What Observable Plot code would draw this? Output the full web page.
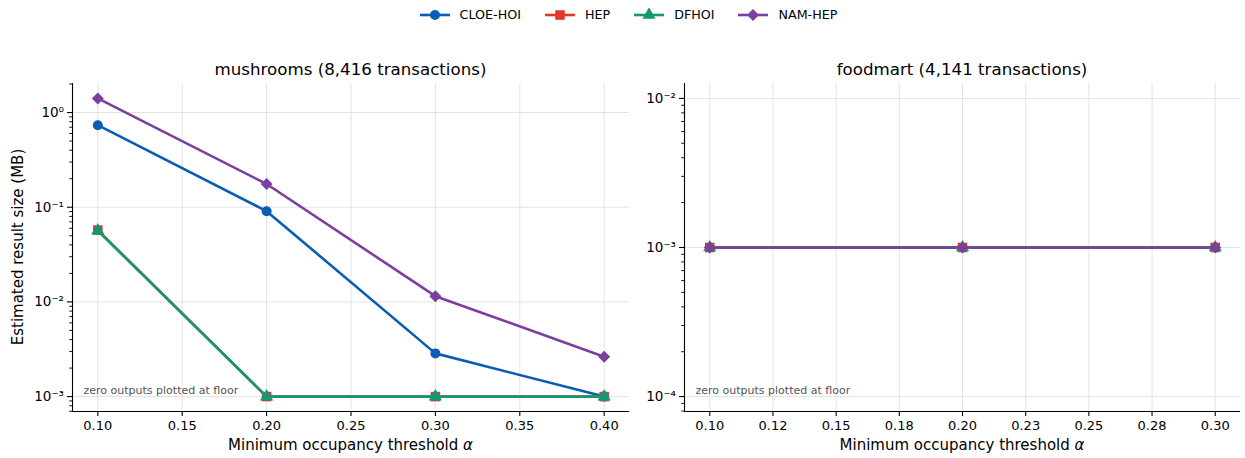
<!DOCTYPE html>
<html><head><meta charset="utf-8">
<script src="https://cdn.jsdelivr.net/npm/d3@7"></script>
<script src="https://cdn.jsdelivr.net/npm/@observablehq/plot@0.6"></script>
<style>
body{margin:0;background:#fff;font-family:"DejaVu Sans",sans-serif;color:#000;}
#root{position:relative;width:1245px;height:458px;overflow:hidden;background:#fff;}
.abs{position:absolute;white-space:nowrap;}
.plot{position:absolute;}
.legend{position:absolute;left:6px;top:6px;width:1245px;display:flex;justify-content:center;gap:24px;font-size:12.7px;line-height:18px;}
.legend .item{display:flex;align-items:center;gap:10px;}
</style></head><body><div id="root"></div>
<script>
// ---------- data ----------
const seriesNames = ["CLOE-HOI", "HEP", "DFHOI", "NAM-HEP"];

const mushThresholds = [0.10, 0.20, 0.30, 0.40];
const mushCLOE  = [0.735, 0.0908, 0.00286, 0.001];
const mushHEP   = [0.0573, 0.001, 0.001, 0.001];
const mushDFHOI = [0.0565, 0.001, 0.001, 0.001];
const mushNAM   = [1.41, 0.176, 0.0115, 0.00264];

const foodThresholds = [0.10, 0.20, 0.30];
const foodCLOE  = [0.001, 0.001, 0.001];
const foodHEP   = [0.001, 0.001, 0.001];
const foodDFHOI = [0.001, 0.001, 0.001];
const foodNAM   = [0.001, 0.001, 0.001];

const mushXTicks = [0.10, 0.15, 0.20, 0.25, 0.30, 0.35, 0.40];
const mushXTickLabels = ["0.10", "0.15", "0.20", "0.25", "0.30", "0.35", "0.40"];
const foodXTicks = [0.100, 0.125, 0.150, 0.175, 0.200, 0.225, 0.250, 0.275, 0.300];
const foodXTickLabels = ["0.10", "0.12", "0.15", "0.18", "0.20", "0.23", "0.25", "0.28", "0.30"];
const mushYTicks = [1e-3, 1e-2, 1e-1, 1];
const foodYTicks = [1e-4, 1e-3, 1e-2];

const panelTitles = ["mushrooms (8,416 transactions)", "foodmart (4,141 transactions)"];
const xLabelText = "Minimum occupancy threshold ";
const xLabelSymbol = "α";
const yLabelText = "Estimated result size (MB)";
const floorNote = "zero outputs plotted at floor";

// ---------- styles ----------
const styles = {
  "CLOE-HOI": {color: "#0b5cb5", symbol: "circle",   r: 5.0},
  "HEP":      {color: "#e0392b", symbol: "square",   r: 5.4},
  "DFHOI":    {color: "#12996f", symbol: "triangle", r: 4.9},
  "NAM-HEP":  {color: "#7b3f9f", symbol: "diamond2", r: 5.4}
};

function toRows(xs, seriesVals) {
  const rows = [];
  seriesNames.forEach((s, k) => xs.forEach((x, i) => rows.push({series: s, x, y: seriesVals[k][i]})));
  return rows;
}
const mushRows = toRows(mushThresholds, [mushCLOE, mushHEP, mushDFHOI, mushNAM]);
const foodRows = toRows(foodThresholds, [foodCLOE, foodHEP, foodDFHOI, foodNAM]);

function linDomain(vals) {
  const lo = d3.min(vals), hi = d3.max(vals), m = (hi - lo) * 0.05;
  return [lo - m, hi + m];
}
function logDomain(vals) {
  let lo = Math.log10(d3.min(vals)), hi = Math.log10(d3.max(vals));
  if (Math.abs(hi - lo) < 1e-9) { lo -= 1; hi += 1; }
  const m = (hi - lo) * 0.05;
  return [10 ** (lo - m), 10 ** (hi + m)];
}
function minorTicks(domain) {
  const out = [];
  const e0 = Math.floor(Math.log10(domain[0])) , e1 = Math.ceil(Math.log10(domain[1]));
  for (let e = e0; e <= e1; e++) for (let m = 2; m <= 9; m++) {
    const v = m * 10 ** e;
    if (v > domain[0] && v < domain[1] * 0.995) out.push(v);
  }
  return out;
}
const supMap = {"-": "⁻", "0": "⁰", "1": "¹", "2": "²", "3": "³", "4": "⁴", "5": "⁵", "6": "⁶", "7": "⁷", "8": "⁸", "9": "⁹"};
const powFmt = v => "10" + String(Math.round(Math.log10(v))).replace(/./g, c => supMap[c]);

function panel({rows, xTicks, xTickLabels, yTicks, width, marginLeft, marginRight}) {
  const xDom = linDomain(rows.map(d => d.x));
  const yDom = logDomain(rows.map(d => d.y));
  const marks = [
    Plot.gridX(xTicks, {stroke: "#e3e3e3", strokeOpacity: 1, strokeWidth: 1}),
    Plot.gridY(yTicks, {stroke: "#e3e3e3", strokeOpacity: 1, strokeWidth: 1}),
    Plot.ruleX([xDom[0]], {stroke: "#000", strokeWidth: 1.1}),
    Plot.ruleY([yDom[0]], {stroke: "#000", strokeWidth: 1.1})
  ];
  for (const s of seriesNames) {
    const st = styles[s];
    const data = rows.filter(d => d.series === s);
    marks.push(Plot.line(data, {x: "x", y: "y", stroke: st.color, strokeWidth: 2.6}));
    marks.push(Plot.dot(data, {x: "x", y: "y", symbol: () => st.symbol, fill: st.color, stroke: "none", r: st.r}));
  }
  marks.push(
    Plot.axisX(xTicks, {anchor: "bottom", tickSize: 5, tickPadding: 4, fontSize: 13, stroke: "#000", fill: "#000", strokeWidth: 1.1, label: null,
      tickFormat: d => xTickLabels[xTicks.indexOf(d)]}),
    Plot.axisY(yTicks, {anchor: "left", tickSize: 5, tickPadding: 3.5, fontSize: 13.5, stroke: "#000", fill: "#000", strokeWidth: 1.1, label: null,
      tickFormat: powFmt}),
    Plot.axisY(minorTicks(yDom), {anchor: "left", tickSize: 2.8, tickPadding: 0, stroke: "#000", strokeWidth: 0.9, label: null, tickFormat: () => ""}),
    Plot.text([floorNote], {frameAnchor: "bottom-left", dx: 11, dy: -18, textAnchor: "start", fill: "#555", fontSize: 11})
  );
  return Plot.plot({
    width, height: 418, marginLeft, marginRight, marginTop: 43, marginBottom: 47,
    style: {fontFamily: "DejaVu Sans", background: "transparent", overflow: "visible"},
    x: {type: "linear", domain: xDom},
    y: {type: "log", domain: yDom},
    marks
  });
}

const root = document.getElementById("root");

// legend
const legend = document.createElement("div");
legend.className = "legend";
for (const s of seriesNames) {
  const st = styles[s];
  const item = document.createElement("div");
  item.className = "item";
  const svg = d3.create("svg").attr("width", 30).attr("height", 14);
  svg.append("line").attr("x1", 0).attr("x2", 30).attr("y1", 7).attr("y2", 7).attr("stroke", st.color).attr("stroke-width", 2.6);
  const symMap = {circle: d3.symbolCircle, square: d3.symbolSquare, triangle: d3.symbolTriangle, diamond2: d3.symbolDiamond2};
  svg.append("path").attr("transform", "translate(15,7)").attr("fill", st.color)
    .attr("d", d3.symbol(symMap[st.symbol], Math.PI * st.r * st.r)());
  item.appendChild(svg.node());
  const t = document.createElement("span");
  t.textContent = s;
  item.appendChild(t);
  legend.appendChild(item);
}
root.appendChild(legend);

// panels
const p1 = panel({rows: mushRows, xTicks: mushXTicks, xTickLabels: mushXTickLabels, yTicks: mushYTicks, width: 635, marginLeft: 72, marginRight: 6});
p1.classList.add("plot"); p1.style.left = "0px"; p1.style.top = "40px";
root.appendChild(p1);
const p2 = panel({rows: foodRows, xTicks: foodXTicks, xTickLabels: foodXTickLabels, yTicks: foodYTicks, width: 605, marginLeft: 44, marginRight: 5});
p2.classList.add("plot"); p2.style.left = "640px"; p2.style.top = "40px";
root.appendChild(p2);

// titles and axis labels
const frames = [[72, 629], [684, 1240]];
frames.forEach(([a, b], i) => {
  const t = document.createElement("div");
  t.className = "abs";
  t.style.cssText = `left:${(a + b) / 2}px;top:62px;transform:translateX(-50%);font-size:16.67px;line-height:16.67px;`;
  t.textContent = panelTitles[i];
  root.appendChild(t);
  const xl = document.createElement("div");
  xl.className = "abs";
  xl.style.cssText = `left:${(a + b) / 2}px;top:438px;transform:translateX(-50%);font-size:15px;line-height:15px;`;
  xl.textContent = xLabelText;
  const it = document.createElement("i");
  it.textContent = xLabelSymbol;
  xl.appendChild(it);
  root.appendChild(xl);
});
const yl = document.createElement("div");
yl.className = "abs";
yl.style.cssText = "left:18px;top:247px;transform:translate(-50%,-50%) rotate(-90deg);font-size:15px;line-height:15px;";
yl.textContent = yLabelText;
root.appendChild(yl);
</script></body></html>
